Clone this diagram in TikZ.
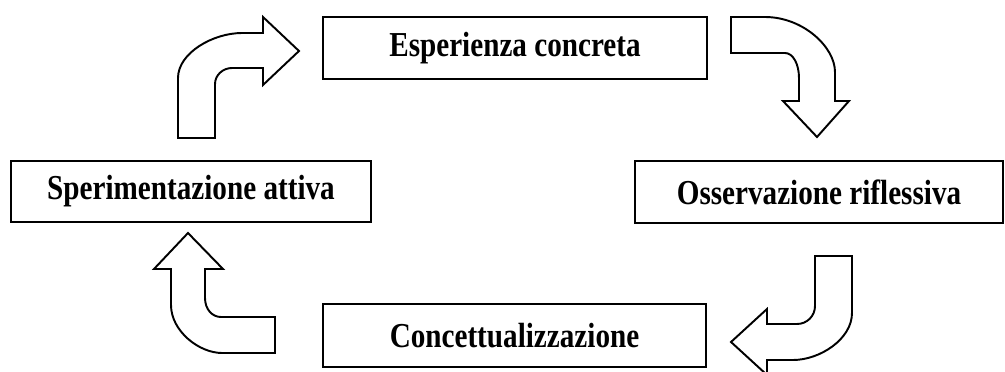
\documentclass[tikz,border=0pt]{standalone}
\usepackage{graphicx}
\usepackage{fontspec}
\setmainfont{Liberation Serif}
\usetikzlibrary{positioning}
\newcommand{\tallbox}[1]{\scalebox{1}[1.2]{#1}}
\tikzset{box/.style={draw, line width=1.1pt, minimum height=1.24cm, inner sep=0pt,
    font=\fontsize{16.6}{20}\selectfont\bfseries},
    blockarrow/.style={draw, line width=1.1pt, line join=miter, fill=white}}

\begin{document}
\begin{tikzpicture}[x=0.02cm, y=-0.02cm]
        \useasboundingbox (0,0) rectangle (1005,372);
        \node[box, minimum width=7.68cm] (esperienza) at (515,48) {\tallbox{Esperienza concreta}};
        \node[box, minimum width=7.36cm] (osservazione) at (819,192) {\tallbox{Osservazione riflessiva}};
        \node[box, minimum width=7.66cm, minimum height=1.26cm] (concettualizzazione) at (514.5,335.5) {\tallbox{Concettualizzazione}};
        \node[box, minimum width=7.2cm, minimum height=1.22cm] (sperimentazione) at (191,191.5) {\tallbox{Sperimentazione attiva}};
        \draw[blockarrow] (178,138) -- (178,78) .. controls (178,53) and (213,33) .. (242,33) -- (263,33) -- (263,17) -- (299,51) -- (263,85) -- (263,68) -- (232,68) .. controls (223,68) and (215,75) .. (215,84) -- (215,138) -- cycle;
        \draw[blockarrow] (731,17) -- (765,17) .. controls (803,17) and (835,47) .. (835,72) -- (835,101) -- (849,101) -- (817,137) -- (783,101) -- (799,101) -- (799,78) .. controls (799,64) and (793,53) .. (785,53) -- (731,53) -- cycle;
        \draw[blockarrow] (815,256) -- (852,256) -- (852,313) .. controls (852,339) and (820,360) .. (793,360) -- (767,360) -- (767,375) -- (731,342) -- (767,309) -- (767,324) -- (797,324) .. controls (807,324) and (815,316) .. (815,306) -- cycle;
        \draw[blockarrow] (275,353) -- (222,353) .. controls (199,353) and (171,331) .. (171,305) -- (171,269) -- (154,269) -- (188,233) -- (223,269) -- (205,269) -- (205,298) .. controls (205,309) and (212,317) .. (221,317) -- (275,317) -- cycle;
\end{tikzpicture}
\end{document}
